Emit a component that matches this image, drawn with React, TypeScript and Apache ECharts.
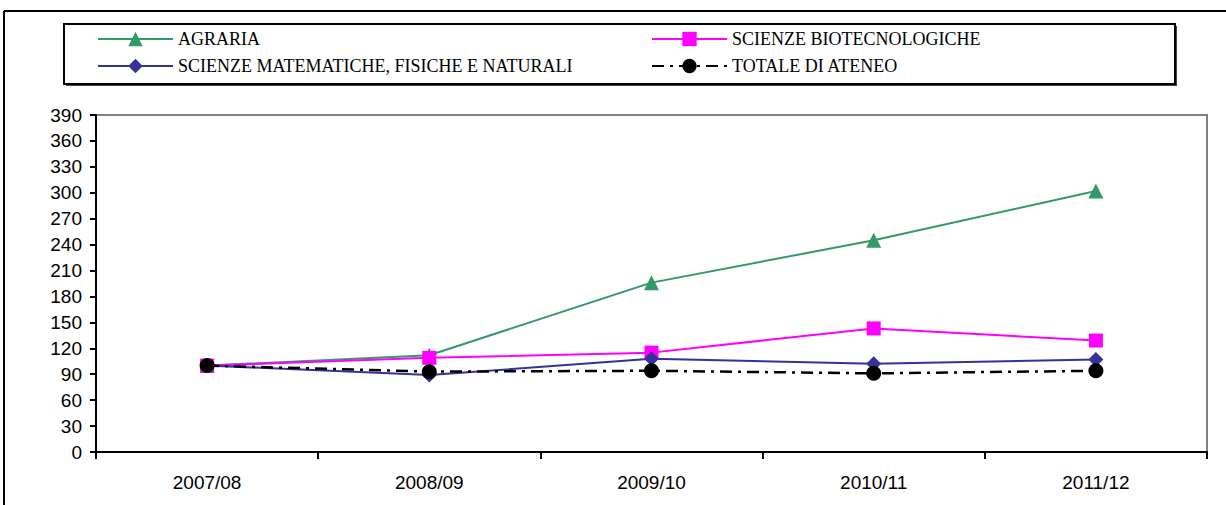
import React, { useEffect, useRef } from "react";
import * as echarts from "echarts";

const categories = ["2007/08", "2008/09", "2009/10", "2010/11", "2011/12"];
const agraria = [100, 112, 196, 245, 302];
const biotec = [100, 109, 115, 143, 129];
const smfn = [100, 89, 108, 102, 107];
const totale = [100, 93, 94, 91, 94];
const seriesNames = [
  "AGRARIA",
  "SCIENZE BIOTECNOLOGICHE",
  "SCIENZE MATEMATICHE, FISICHE E NATURALI",
  "TOTALE DI ATENEO",
];

export default function App() {
  const ref = useRef<HTMLDivElement>(null);
  useEffect(() => {
    if (!ref.current) return;
    const chart = echarts.init(ref.current, null, { renderer: "svg" });
    const legendText = {
      fontFamily: "Liberation Serif, Times New Roman, serif",
      fontSize: 18,
      color: "#000",
    };
    const mkLegend = (name: string, left: number, top: number) => ({
      data: [name],
      left,
      top,
      padding: 0,
      itemWidth: 75,
      itemHeight: 18,
      itemGap: 0,
      textStyle: legendText,
    });
    chart.setOption({
      animation: false,
      backgroundColor: "#fff",
      legend: [
        mkLegend(seriesNames[0], 97, 30),
        mkLegend(seriesNames[1], 651, 30),
        mkLegend(seriesNames[2], 97, 57),
        mkLegend(seriesNames[3], 651, 57),
      ],
      graphic: [
        {
          type: "line",
          shape: { x1: 4, y1: 11, x2: 1226, y2: 11 },
          style: { stroke: "#000", lineWidth: 2 },
          z: -1,
        },
        {
          type: "line",
          shape: { x1: 4, y1: 11, x2: 4, y2: 505 },
          style: { stroke: "#000", lineWidth: 2 },
          z: -1,
        },
        {
          type: "rect",
          shape: { x: 66, y: 26, width: 1111, height: 60 },
          style: { fill: "#444", stroke: "none" },
          z: -2,
        },
        {
          type: "rect",
          shape: { x: 64, y: 24, width: 1111, height: 60 },
          style: { fill: "#fff", stroke: "#000", lineWidth: 2 },
          z: -1,
        },
      ],
      grid: {
        left: 96,
        top: 115,
        right: 19,
        bottom: 53,
        show: true,
        borderColor: "#808080",
        borderWidth: 2,
        backgroundColor: "transparent",
      },
      xAxis: {
        type: "category",
        data: categories,
        boundaryGap: true,
        axisLine: { lineStyle: { color: "#000", width: 2 } },
        axisTick: { show: true, length: 7, lineStyle: { color: "#000", width: 2 } },
        axisLabel: {
          color: "#000",
          fontFamily: "Liberation Sans, Arial, sans-serif",
          fontSize: 19,
          margin: 21,
        },
        splitLine: { show: false },
      },
      yAxis: {
        type: "value",
        min: 0,
        max: 390,
        interval: 30,
        axisLine: { show: true, lineStyle: { color: "#000", width: 2 } },
        axisTick: { show: true, length: 6, lineStyle: { color: "#000", width: 2 } },
        axisLabel: {
          color: "#000",
          fontFamily: "Liberation Sans, Arial, sans-serif",
          fontSize: 19,
          margin: 14,
        },
        splitLine: { show: false },
      },
      series: [
        {
          name: seriesNames[0],
          type: "line",
          data: agraria,
          symbol: "triangle",
          symbolSize: 15,
          lineStyle: { color: "#339966", width: 2 },
          itemStyle: { color: "#339966" },
        },
        {
          name: seriesNames[1],
          type: "line",
          data: biotec,
          symbol: "rect",
          symbolSize: 14,
          lineStyle: { color: "#FF00FF", width: 2 },
          itemStyle: { color: "#FF00FF" },
        },
        {
          name: seriesNames[2],
          type: "line",
          data: smfn,
          symbol: "diamond",
          symbolSize: 15,
          lineStyle: { color: "#333399", width: 2 },
          itemStyle: { color: "#333399" },
        },
        {
          name: seriesNames[3],
          type: "line",
          data: totale,
          symbol: "circle",
          symbolSize: 15,
          lineStyle: { color: "#000", width: 2.5, type: [12, 6, 3, 6] },
          itemStyle: { color: "#000" },
        },
      ],
    });
    return () => chart.dispose();
  }, []);
  return (
    <div
      ref={ref}
      style={{ position: "fixed", left: 0, top: 0, width: 1226, height: 505 }}
    />
  );
}
